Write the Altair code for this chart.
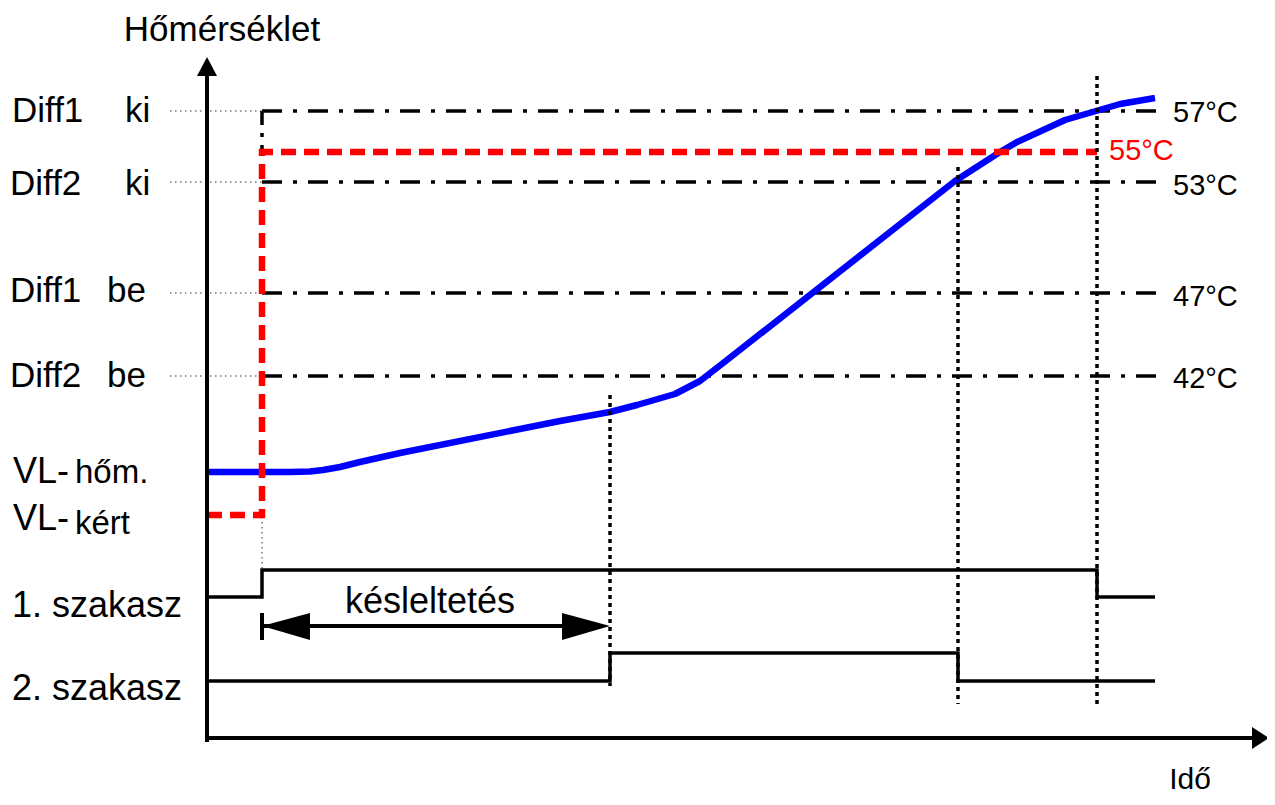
import altair as alt
import pandas as pd

FONT = "Liberation Sans"

# ---- data (time position t, level position l) ----
# dash-dot threshold levels
dd_levels = [111, 182, 293, 376]
dd_start = [262, 262, 262, 262]
dd_end = [1158, 1158, 1158, 1158]
thin_start = [170, 170, 170, 170]

# blue curve (VL-hőm. / measured temperature)
blue_t = [207, 290, 310, 323, 340, 360, 400, 560, 610, 637, 675, 700, 727, 955, 1000, 1017, 1065, 1096, 1120, 1155]
blue_l = [472, 472, 471.5, 470, 467, 462, 453, 421, 412, 405, 394, 381, 360, 181, 152, 142, 120, 111, 104, 98]

# red dashed (VL-kért / requested)
red_t = [207, 262, 262, 1097]
red_l = [515, 515, 152, 152]

# vertical thick dotted markers
vdot_t = [610, 958, 1097]
vdot_top = [395, 167, 76]
vdot_bot = [686, 704, 707]

# stage step signals
st1_t = [207, 262, 262, 1097, 1097, 1155]
st1_l = [597, 597, 570, 570, 597, 597]
st2_t = [207, 610, 610, 958, 958, 1155]
st2_l = [681, 681, 653, 653, 681, 681]

# labels
left_text = ["Diff1", "ki", "Diff2", "ki", "Diff1", "be", "Diff2", "be",
             "VL-", "hőm.", "VL-", "kért", "1. szakasz", "2. szakasz"]
left_t = [12, 125, 10, 125, 10, 107, 10, 107, 13, 75, 13, 75, 12, 12]
left_l = [122, 122, 195, 195, 302, 302, 387, 387, 483, 483, 530, 534, 617, 700]
left_size = [35, 35, 35, 35, 35, 35, 35, 35, 36, 33, 36, 33, 36, 36]

right_text = ["57°C", "55°C", "53°C", "47°C", "42°C"]
right_t = [1173, 1109, 1173, 1173, 1173]
right_l = [122, 160, 195, 306, 388]
right_color = ["black", "red", "black", "black", "black"]

center_text = ["Hőmérséklet", "késleltetés", "Idő"]
center_t = [222, 430, 1190]
center_l = [41, 613, 789]
center_size = [35, 36, 30]

# ---- scales ----
xs = alt.Scale(domain=[8, 1267], nice=False, zero=False)
ys = alt.Scale(domain=[8, 797], nice=False, zero=False, reverse=True)


def X(f):
    return alt.X(f, type="quantitative", scale=xs, axis=None)


def Y(f):
    return alt.Y(f, type="quantitative", scale=ys, axis=None)


def line_df(ts, ls, gid):
    return pd.DataFrame({"t": ts, "l": ls, "id": gid, "k": list(range(len(ts)))})


# thin grey dotted leaders
thin_h = pd.DataFrame({"t": thin_start, "t2": dd_start, "l": dd_levels})
thin_h_layer = alt.Chart(thin_h).mark_rule(color="#777", strokeWidth=1.5, strokeDash=[1.5, 3.5]).encode(
    x=X("t"), x2="t2", y=Y("l"))
thin_v = pd.DataFrame({"t": [262], "l": [517], "l2": [568]})
thin_v_layer = alt.Chart(thin_v).mark_rule(color="#777", strokeWidth=1.5, strokeDash=[1.5, 3.5]).encode(
    x=X("t"), y=Y("l"), y2="l2")

# dash-dot thresholds
dd = pd.DataFrame({"t": dd_start, "t2": dd_end, "l": dd_levels})
dd_layer = alt.Chart(dd).mark_rule(color="black", strokeWidth=3.5, strokeDash=[20, 11, 4, 11]).encode(
    x=X("t"), x2="t2", y=Y("l"))
dd_v = pd.DataFrame({"t": [262], "l": [111], "l2": [152]})
dd_v_layer = alt.Chart(dd_v).mark_rule(color="black", strokeWidth=3.5, strokeDash=[14, 8, 4, 8]).encode(
    x=X("t"), y=Y("l"), y2="l2")

# blue curve
blue_layer = alt.Chart(line_df(blue_t, blue_l, "b")).mark_line(
    color="#0000ff", strokeWidth=6.5, interpolate="linear", strokeJoin="round").encode(
    x=X("t"), y=Y("l"), order="k:Q")

# red dashed
red_layer = alt.Chart(line_df(red_t, red_l, "r")).mark_line(
    color="#ff0000", strokeWidth=6.5, strokeDash=[15, 8]).encode(
    x=X("t"), y=Y("l"), order="k:Q")

# vertical thick dotted
vd = pd.DataFrame({"t": vdot_t, "l": vdot_top, "l2": vdot_bot})
vd_layer = alt.Chart(vd).mark_rule(color="black", strokeWidth=3.5, strokeDash=[4, 4]).encode(
    x=X("t"), y=Y("l"), y2="l2")

# step signals
steps = pd.concat([line_df(st1_t, st1_l, "s1"), line_df(st2_t, st2_l, "s2")])
steps_layer = alt.Chart(steps).mark_line(color="black", strokeWidth=3.5, strokeJoin="miter").encode(
    x=X("t"), y=Y("l"), detail="id:N", order="k:Q")

# axes and delay arrow shaft
ax = pd.DataFrame({"t": [207, 205, 262], "t2": [207, 1256, 600], "l": [742, 738, 626], "l2": [72, 738, 626]})
ax_layer = alt.Chart(ax).mark_rule(color="black", strokeWidth=4).encode(
    x=X("t"), x2="t2", y=Y("l"), y2="l2")
bar = pd.DataFrame({"t": [262], "l": [613], "l2": [640]})
bar_layer = alt.Chart(bar).mark_rule(color="black", strokeWidth=4).encode(
    x=X("t"), y=Y("l"), y2="l2")

# arrowheads (filled triangles)
tri = pd.DataFrame({
    "id": ["up"] * 3 + ["right"] * 2 + ["dl"] * 2 + ["dr"] * 2,
    "t": [197, 207, 217, 1252, 1269, 262, 310, 562, 610],
    "l": [76, 57, 76, 727, 738, 626, 613, 613, 626],
    "l2": [76, 76, 76, 749, 738, 626, 640, 640, 626],
})
tri_layer = alt.Chart(tri).mark_area(color="black", opacity=1, interpolate="linear").encode(
    x=X("t"), y=Y("l"), y2="l2", detail="id:N")

# texts
ltxt = pd.DataFrame({"txt": left_text, "t": left_t, "l": left_l, "s": left_size})
ltxt_layer = alt.Chart(ltxt).mark_text(align="left", baseline="alphabetic", font=FONT, color="black").encode(
    x=X("t"), y=Y("l"), text="txt:N", size=alt.Size("s:Q", scale=None))
rtxt = pd.DataFrame({"txt": right_text, "t": right_t, "l": right_l, "c": right_color})
rtxt_layer = alt.Chart(rtxt).mark_text(align="left", baseline="alphabetic", font=FONT, fontSize=29).encode(
    x=X("t"), y=Y("l"), text="txt:N", color=alt.Color("c:N", scale=None))
ctxt = pd.DataFrame({"txt": center_text, "t": center_t, "l": center_l, "s": center_size})
ctxt_layer = alt.Chart(ctxt).mark_text(align="center", baseline="alphabetic", font=FONT, color="black").encode(
    x=X("t"), y=Y("l"), text="txt:N", size=alt.Size("s:Q", scale=None))

chart = alt.layer(
    thin_h_layer, thin_v_layer, dd_layer, dd_v_layer, blue_layer, red_layer, vd_layer,
    steps_layer, ax_layer, bar_layer, tri_layer, ltxt_layer, rtxt_layer, ctxt_layer
).properties(
    width=1259, height=789, padding=0, autosize=alt.AutoSizeParams(type="none"),
    background="white"
).configure_view(stroke=None)

chart.save("out.html", embed_options={"renderer": "svg", "actions": False})
